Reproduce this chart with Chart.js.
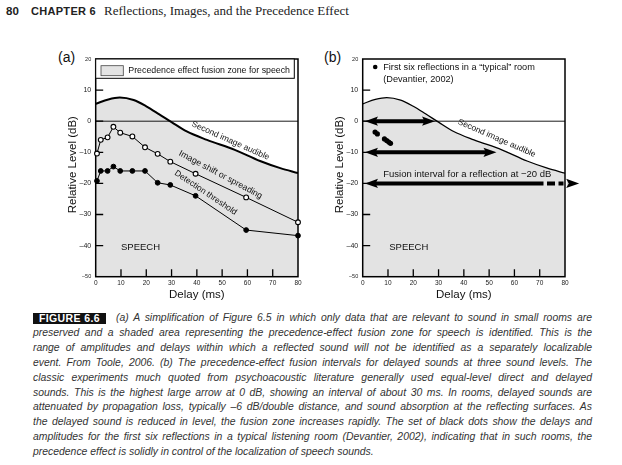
<!DOCTYPE html>
<html><head><meta charset="utf-8">
<script src="https://cdn.jsdelivr.net/npm/chart.js@4.4.1/dist/chart.umd.min.js"></script>
<style>
html,body{margin:0;padding:0;background:#fff;}
body{width:622px;height:465px;position:relative;overflow:hidden;color:#222;font-family:"Liberation Sans",Arial,sans-serif;}
.abs{position:absolute;white-space:nowrap;line-height:13px;}
#pg{left:6px;top:4.5px;font-weight:bold;font-size:11.5px;}
#ch{left:31px;top:4.5px;font-weight:bold;font-size:11px;letter-spacing:0.3px;}
#tt{left:104px;top:4px;font-family:"Liberation Serif","DejaVu Serif",serif;font-size:13px;}
.pl{font-size:14px;top:51px;color:#111;}
canvas{position:absolute;}
#fig{position:absolute;left:33px;top:312.5px;width:73px;height:11px;background:#111;color:#fff;font-weight:bold;font-size:10.5px;line-height:11px;text-align:center;letter-spacing:0.4px;white-space:nowrap;}
.cap{position:absolute;font-style:italic;color:#333;white-space:normal;text-align:justify;text-align-last:justify;height:14px;line-height:14px;overflow:visible;}
.cap.last{text-align:left;text-align-last:left;}
</style></head>
<body>
<div class="abs" id="pg">80</div>
<div class="abs" id="ch">CHAPTER 6</div>
<div class="abs" id="tt">Reflections, Images, and the Precedence Effect</div>
<div class="abs pl" style="left:58px">(a)</div>
<div class="abs pl" style="left:324px">(b)</div>
<canvas id="ca" width="275" height="268" style="left:40px;top:40px;width:275px;height:268px"></canvas>
<canvas id="cb" width="275" height="268" style="left:307px;top:40px;width:275px;height:268px"></canvas>
<div id="fig">FIGURE 6.6</div>
<div id="caption"></div>
<script>
// ---------- data ----------
const delays      = [0.5, 2, 4.7, 7, 9.7, 14.5, 19.5, 24.5, 29.5, 39.5, 59.5, 80];
const imageShift  = [-10.4, -6, -5.2, -1.8, -3.7, -4.9, -8.4, -10.5, -13, -16.9, -24.5, -32.5];
const detection   = [-19.2, -16, -16, -14.6, -16, -16, -16, -19.8, -20.5, -24, -35, -36.8];
const zoneDelay   = [0, 5, 9.5, 15, 20, 25, 30, 36, 44, 55, 65, 73, 80];
const zoneLevel   = [5.6, 7.0, 7.6, 6.8, 4.8, 2.3, -0.3, -3.3, -6.0, -9.2, -12.8, -15.1, -16.7];
const reflDelay   = [4.9, 5.8, 8.6, 9.5, 10.3, 11.0];
const reflLevel   = [-3.5, -4.1, -5.7, -6.2, -6.7, -7.1];
const arrowLevel  = [0, -10, -20];
const arrowFrom   = [0.9, 0.9, 0.9];
const arrowTo     = [28.6, 52.9, 85.6];
const arrowSolidTo= [28.6, 52.9, 71.5];
const yTickMarks  = [10, 0, -10, -20, -30, -40];
const xTickMarks  = [10, 20, 30, 40, 50, 60, 70];

const captionLines = [
 "(a) A simplification of Figure 6.5 in which only data that are relevant to sound in small rooms are",
 "preserved and a shaded area representing the precedence-effect fusion zone for speech is identified. This is the",
 "range of amplitudes and delays within which a reflected sound will not be identified as a separately localizable",
 "event. From Toole, 2006. (b) The precedence-effect fusion intervals for delayed sounds at three sound levels. The",
 "classic experiments much quoted from psychoacoustic literature generally used equal-level direct and delayed",
 "sounds. This is the highest large arrow at 0 dB, showing an interval of about 30 ms. In rooms, delayed sounds are",
 "attenuated by propagation loss, typically \u20136 dB/double distance, and sound absorption at the reflecting surfaces. As",
 "the delayed sound is reduced in level, the fusion zone increases rapidly. The set of black dots show the delays and",
 "amplitudes for the first six reflections in a typical listening room (Devantier, 2002), indicating that in such rooms, the",
 "precedence effect is solidly in control of the localization of speech sounds."
];

// ---------- caption ----------
(function(){
  const cap = document.getElementById('caption');
  const mc = document.createElement('canvas').getContext('2d');
  mc.font = 'italic 10px "Liberation Sans"';
  const boxes = captionLines.map((t,i)=>{ const l = i===0?116:33; return {l, w:592-l}; });
  let f = 10*341/mc.measureText(captionLines[9]).width;
  captionLines.forEach((t,i)=>{ const w = mc.measureText(t).width; f = Math.min(f, 10*boxes[i].w/w*0.995); });
  captionLines.forEach((t,i)=>{
    const d = document.createElement('div');
    d.className = 'cap' + (i===9?' last':'');
    d.style.left = boxes[i].l+'px'; d.style.width = boxes[i].w+'px';
    d.style.top = (318 + i*14.9 - 7)+'px';
    d.style.fontSize = f.toFixed(2)+'px';
    d.textContent = t;
    cap.appendChild(d);
  });
})();

// ---------- charts ----------
Chart.defaults.font.family = "'Liberation Sans', Arial, Helvetica, sans-serif";
Chart.defaults.color = '#111';

const fmt = v => v < 0 ? '\u2013' + (-v) : String(v);
const pts = (xs, ys) => xs.map((x,i)=>({x, y: ys[i]}));

function makeScales(){
  return {
    x: {type:'linear', min:0, max:80,
        ticks:{stepSize:10, padding:2.5, font:{size:6.5}, color:'#222', callback:fmt, maxRotation:0, autoSkip:false},
        grid:{display:false, drawTicks:false}, border:{display:false},
        title:{display:true, text:'Delay (ms)', font:{size:11.5}, color:'#111', padding:{top:0,bottom:6}},
        afterFit(s){ s.height = 31.3; }},
    y: {type:'linear', min:-50, max:20,
        ticks:{stepSize:10, padding:4.5, color:'#222', callback:fmt, autoSkip:false,
               font:(c)=>({size:(c.tick && (c.tick.value===20 || c.tick.value===-50)) ? 5.5 : 7})},
        grid:{display:false, drawTicks:false}, border:{display:false},
        title:{display:true, text:'  Relative Level (dB)', font:{size:11.5}, color:'#111', padding:{top:26,bottom:0}},
        afterFit(s){ s.width = 55.7; }}
  };
}

function arrowHead(ctx, tip, y, dir, L, H){
  ctx.beginPath();
  ctx.moveTo(tip, y);
  ctx.lineTo(tip - dir*L, y - H);
  ctx.lineTo(tip - dir*(L-2.5), y);
  ctx.lineTo(tip - dir*L, y + H);
  ctx.closePath();
  ctx.fill();
}

const decor = {
  id:'decor',
  afterDatasetDraw(chart, args){
    if(!chart.data.datasets[args.index].zone) return;
    const {ctx, chartArea:a, scales:{x, y}} = chart;
    ctx.save();
    ctx.strokeStyle = '#000';
    ctx.lineWidth = 0.9;
    const y0 = y.getPixelForValue(0);
    ctx.beginPath(); ctx.moveTo(a.left, y0); ctx.lineTo(a.right, y0); ctx.stroke();
    ctx.lineWidth = 1.3;
    ctx.beginPath();
    yTickMarks.forEach(v=>{ const p = y.getPixelForValue(v); ctx.moveTo(a.left, p); ctx.lineTo(a.left+7.5, p); });
    xTickMarks.forEach(v=>{ const p = x.getPixelForValue(v); ctx.moveTo(p, a.bottom); ctx.lineTo(p, a.bottom-7.5); });
    ctx.stroke();
    ctx.lineWidth = 1.5;
    ctx.strokeRect(a.left, a.top, a.right-a.left, a.bottom-a.top);
    ctx.restore();
  },
  afterDatasetsDraw(chart, args, o){
    const {ctx, chartArea:a, scales:{x, y}} = chart;
    ctx.save();
    ctx.fillStyle = '#111';
    ctx.textBaseline = 'middle';
    (o.labels||[]).forEach(l=>{
      ctx.save();
      ctx.translate(x.getPixelForValue(l.x), y.getPixelForValue(l.y));
      ctx.rotate((l.angle||0)*Math.PI/180);
      ctx.font = (l.size||8.5) + 'px "Liberation Sans", Arial, sans-serif';
      ctx.textAlign = l.align || 'center';
      ctx.fillText(l.text, 0, 0);
      ctx.restore();
    });
    if(o.legendA){
      ctx.strokeStyle = '#000'; ctx.lineWidth = 1;
      ctx.fillStyle = '#fff';
      ctx.fillRect(a.left, a.top, 198.6, 19.3);
      ctx.strokeRect(a.left, a.top, 198.6, 19.3);
      ctx.fillStyle = '#e3e3e3';
      ctx.fillRect(a.left+5.3, a.top+6.7, 22.3, 10);
      ctx.strokeStyle = '#444'; ctx.lineWidth = 0.8;
      ctx.strokeRect(a.left+5.3, a.top+6.7, 22.3, 10);
      ctx.fillStyle = '#111';
      ctx.font = '8.8px "Liberation Sans", Arial, sans-serif';
      ctx.textAlign = 'left';
      ctx.fillText('Precedence effect fusion zone for speech', a.left+32.6, a.top+12);
    }
    if(o.legendB){
      ctx.fillStyle = '#000';
      ctx.beginPath(); ctx.arc(a.left+12.5, a.top+8, 2.3, 0, Math.PI*2); ctx.fill();
      ctx.fillStyle = '#111';
      ctx.font = '9.2px "Liberation Sans", Arial, sans-serif';
      ctx.textAlign = 'left';
      ctx.fillText('First six reflections in a \u201ctypical\u201d room', a.left+20.5, a.top+8.5);
      ctx.fillText('(Devantier, 2002)', a.left+20.5, a.top+20.5);
    }
    if(o.arrows){
      ctx.fillStyle = '#000'; ctx.strokeStyle = '#000'; ctx.lineWidth = 4; ctx.lineCap = 'butt';
      const L = 13, H = 4.6;
      arrowLevel.forEach((lv,i)=>{
        const py = y.getPixelForValue(lv);
        const x1 = x.getPixelForValue(arrowFrom[i]);
        const x2 = x.getPixelForValue(arrowTo[i]);
        const xs = x.getPixelForValue(arrowSolidTo[i]);
        ctx.setLineDash([]);
        ctx.beginPath(); ctx.moveTo(x1+L-3, py); ctx.lineTo(Math.min(xs, x2-L+3), py); ctx.stroke();
        if(xs < x2-L){
          ctx.setLineDash([8,3.5,5,3.5]); ctx.lineDashOffset = 16.5;
          ctx.beginPath(); ctx.moveTo(xs, py); ctx.lineTo(x2-L+1, py); ctx.stroke();
          ctx.setLineDash([]);
        }
        arrowHead(ctx, x1, py, -1, L, H);
        arrowHead(ctx, x2, py, 1, L, H);
      });
    }
    ctx.restore();
  }
};

function baseOptions(decorOpts){
  return {
    responsive:false, animation:false, devicePixelRatio: window.devicePixelRatio || 1,
    layout:{padding:{left:0, top:19, right:17, bottom:0}},
    plugins:{legend:{display:false}, tooltip:{enabled:false}, decor:decorOpts},
    scales:makeScales()
  };
}

new Chart(document.getElementById('ca'), {
  type:'line',
  data:{datasets:[
    {label:'Image shift or spreading', data:pts(delays, imageShift), borderColor:'#000', borderWidth:1,
     pointRadius:2.4, pointBackgroundColor:'#fff', pointBorderColor:'#000', pointBorderWidth:1.1, tension:0, clip:false, order:1},
    {label:'Detection threshold', data:pts(delays, detection), borderColor:'#000', borderWidth:1,
     pointRadius:2.4, pointBackgroundColor:'#000', pointBorderColor:'#000', pointBorderWidth:1, tension:0, clip:false, order:2},
    {label:'Second image audible', zone:true, data:pts(zoneDelay, zoneLevel), borderColor:'#000', borderWidth:2,
     backgroundColor:'#e3e3e3', fill:'start', pointRadius:0, cubicInterpolationMode:'monotone', order:5}
  ]},
  options:baseOptions({
    legendA:true,
    labels:[
      {text:'Second image audible', x:53.3, y:-6.3, angle:24, size:8.5},
      {text:'Image shift or spreading', x:49.4, y:-17.2, angle:28, size:8.7},
      {text:'Detection threshold', x:43.5, y:-23.0, angle:34, size:8.5},
      {text:'SPEECH', x:10, y:-40.5, align:'left', size:9.5}
    ]
  }),
  plugins:[decor]
});

new Chart(document.getElementById('cb'), {
  type:'line',
  data:{datasets:[
    {label:'First six reflections', data:pts(reflDelay, reflLevel), showLine:false,
     pointRadius:2.6, pointBackgroundColor:'#000', pointBorderColor:'#000', pointBorderWidth:0, order:1},
    {label:'Second image audible', zone:true, data:pts(zoneDelay, zoneLevel), borderColor:'#000', borderWidth:1.3,
     backgroundColor:'#e3e3e3', fill:'start', pointRadius:0, cubicInterpolationMode:'monotone', order:5}
  ]},
  options:baseOptions({
    legendB:true, arrows:true,
    labels:[
      {text:'Second image audible', x:53.0, y:-5.5, angle:23.5, size:8.5},
      {text:'Fusion interval for a reflection at \u221220 dB', x:8.1, y:-17.2, align:'left', size:9.5},
      {text:'SPEECH', x:10.5, y:-40.5, align:'left', size:9.5}
    ]
  }),
  plugins:[decor]
});
</script>
</body></html>
